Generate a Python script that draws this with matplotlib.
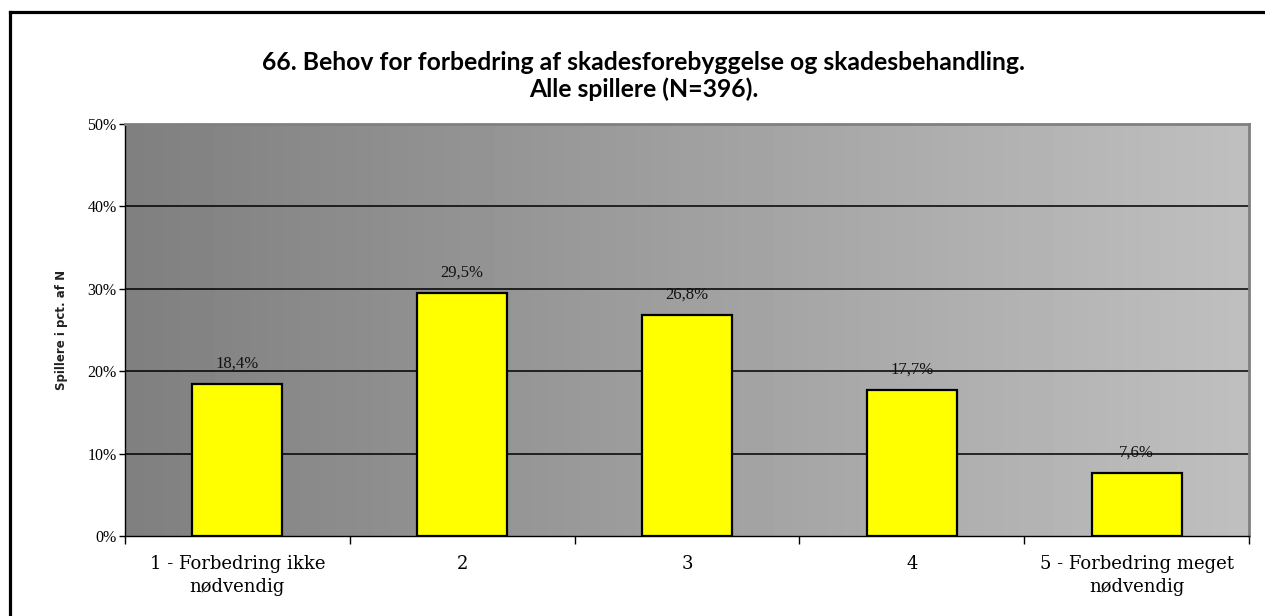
import numpy as np
import matplotlib
matplotlib.use("Agg")
import matplotlib.pyplot as plt
from matplotlib.lines import Line2D
from matplotlib.ticker import FuncFormatter, MultipleLocator

# Svarfordeling for spørgsmål 66
kategorier = ["1 - Forbedring ikke\nnødvendig", "2", "3", "4",
              "5 - Forbedring meget\nnødvendig"]
andele = [18.4, 29.5, 26.8, 17.7, 7.6]

titel = ("66. Behov for forbedring af skadesforebyggelse og skadesbehandling.\n"
         "Alle spillere (N=396).")
y_tekst = "Spillere i pct. af N"

W, H = 1265, 616
fig = plt.figure(figsize=(W / 100, H / 100), dpi=100)
fig.patch.set_facecolor("white")

# plotområde i pixels
venstre, hoejre, top, bund = 125, 1249, 124, 536
ax = fig.add_axes([venstre / W, 1 - bund / H, (hoejre - venstre) / W, (bund - top) / H])

x = np.arange(len(kategorier))
ax.set_xlim(-0.5, len(kategorier) - 0.5)
ax.set_ylim(0, 50)

# grå gradient i baggrunden (mørk til venstre, lys til højre)
grad = np.linspace(0.5, 0.75, 256).reshape(1, -1)
ax.imshow(grad, cmap="gray", vmin=0, vmax=1, aspect="auto",
          extent=(-0.5, len(kategorier) - 0.5, 0, 50), zorder=0, interpolation="bilinear")

for v in [10, 20, 30, 40]:
    ax.axhline(v, color="black", lw=1.1, zorder=1)

ax.bar(x, andele, width=0.4, color="#ffff00", edgecolor="black", lw=1.6, zorder=2)

for xi, v in zip(x, andele):
    ax.annotate(f"{v:.1f}%".replace(".", ","), (xi, v), xytext=(0, 9),
                textcoords="offset points", ha="center", va="bottom",
                fontsize=12, family="Liberation Serif", color="#111111", zorder=3)

ax.yaxis.set_major_locator(MultipleLocator(10))
ax.yaxis.set_major_formatter(FuncFormatter(lambda v, p: f"{v:.0f}%"))
ax.tick_params(axis="y", labelsize=11.5, length=4, width=1, direction="out", pad=2)
for t in ax.get_yticklabels():
    t.set_family("Liberation Serif")

ax.set_xticks(x)
ax.set_xticklabels(kategorier, fontsize=13, family="DejaVu Serif", linespacing=1.3)
ax.tick_params(axis="x", length=0, pad=14)
# skillestreger mellem kategorierne
ax.set_xticks(np.arange(-0.5, len(kategorier)), minor=True)
ax.tick_params(axis="x", which="minor", length=6, width=1, direction="out")

ax.set_ylabel(y_tekst, fontsize=8.5, fontweight="bold", family="DejaVu Sans",
              labelpad=14, color="#222222")

for s in ["top", "right"]:
    ax.spines[s].set_color("#808080")
    ax.spines[s].set_linewidth(2)
ax.spines["left"].set_color("black")
ax.spines["bottom"].set_color("black")
ax.spines["left"].set_linewidth(1)
ax.spines["bottom"].set_linewidth(1)

fig.text(644 / W, 1 - 76 / H, titel, ha="center", va="center", fontsize=17.8,
         fontweight="bold", family="Lato", linespacing=1.2)

# ramme om diagrammet (venstre og øverste kant)
fig.add_artist(Line2D([10 / W, 10 / W], [0, 1 - 12 / H], transform=fig.transFigure,
                      color="black", lw=2.3))
fig.add_artist(Line2D([10 / W, 1], [1 - 12 / H, 1 - 12 / H], transform=fig.transFigure,
                      color="black", lw=2.3))

fig.savefig("out.png", dpi=100)
